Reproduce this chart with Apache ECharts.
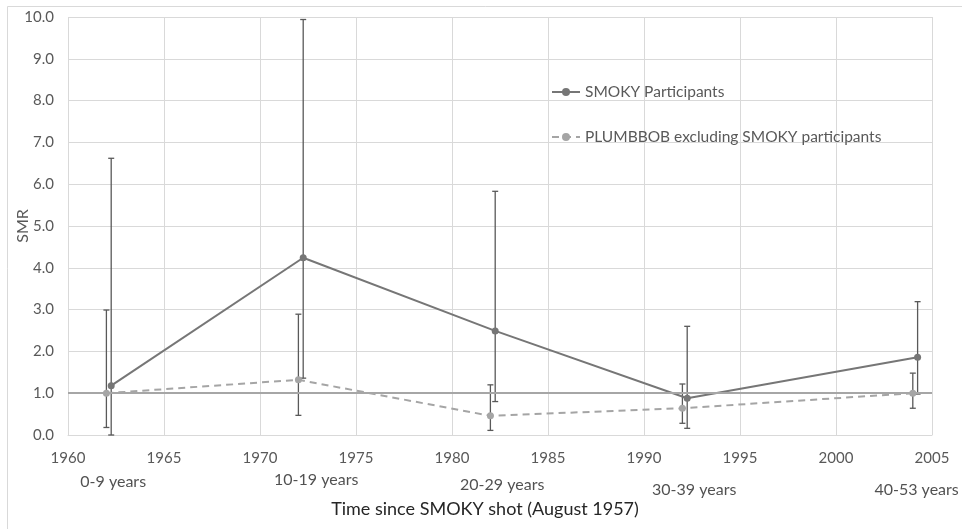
<!DOCTYPE html>
<html>
<head>
<meta charset="utf-8">
<script src="https://cdn.jsdelivr.net/npm/echarts@6/dist/echarts.min.js"></script>
<style>html,body{margin:0;padding:0;background:#fff}#c{width:962px;height:529px}</style>
</head>
<body>
<div id="c"></div>
<script>
// ---- data ----
var smokyYears = [1962.25, 1972.25, 1982.25, 1992.25, 2004.25];
var smokySMR = [1.18, 4.24, 2.49, 0.88, 1.86];
var smokyLow = [0.0, 1.36, 0.80, 0.16, 0.98];
var smokyHigh = [6.62, 9.94, 5.83, 2.60, 3.19];

var plumbYears = [1962.0, 1972.0, 1982.0, 1992.0, 2004.0];
var plumbSMR = [1.0, 1.32, 0.46, 0.64, 1.0];
var plumbLow = [0.18, 0.47, 0.11, 0.28, 0.64];
var plumbHigh = [2.99, 2.89, 1.20, 1.22, 1.48];

var periodLabels = ['0-9 years', '10-19 years', '20-29 years', '30-39 years', '40-53 years'];
var periodYears = [1962.25, 1972.25, 1982.25, 1992.25, 2004.25];
var referenceSMR = 1.0;

var seriesNames = ['SMOKY Participants', 'PLUMBBOB excluding SMOKY participants'];
var xAxisTitle = 'Time since SMOKY shot (August 1957)';
var yAxisTitle = 'SMR';

// ---- styles (layout only) ----
var labelOffsets = [[2, 47], [13, 45], [7, 50], [7, 55], [-1, 55]];
var FONT = 'Lato';

function pairs(xs, ys) { return xs.map(function (x, i) { return [x, ys[i]]; }); }
function errData(xs, lo, hi) { return xs.map(function (x, i) { return [x, lo[i], hi[i]]; }); }

function errRender(params, api) {
  var x = api.value(0);
  var p1 = api.coord([x, api.value(1)]);
  var p2 = api.coord([x, api.value(2)]);
  var cap = 3;
  var st = { stroke: '#595959', lineWidth: 1.3 };
  return {
    type: 'group',
    children: [
      { type: 'line', shape: { x1: p1[0], y1: p1[1], x2: p2[0], y2: p2[1] }, style: st },
      { type: 'line', shape: { x1: p1[0] - cap, y1: p1[1], x2: p1[0] + cap, y2: p1[1] }, style: st },
      { type: 'line', shape: { x1: p2[0] - cap, y1: p2[1], x2: p2[0] + cap, y2: p2[1] }, style: st }
    ]
  };
}

var legendCommon = {
  left: 546, orient: 'vertical', itemWidth: 28, itemHeight: 10,
  textStyle: { color: '#595959', fontSize: 15.5, fontFamily: FONT }
};

var chart = echarts.init(document.getElementById('c'), null, { renderer: 'canvas' });
chart.setOption({
  animation: false,
  backgroundColor: '#fff',
  textStyle: { fontFamily: FONT },
  graphic: [{
    type: 'rect', shape: { x: 7.5, y: 6.5, width: 1000, height: 1000 },
    style: { fill: 'none', stroke: '#d9d9d9', lineWidth: 1 }, silent: true, z: -10
  }],
  grid: { left: 68, right: 30, top: 17, bottom: 94, outerBoundsMode: 'none', containLabel: false },
  legend: [
    Object.assign({ data: [seriesNames[0]], top: 79 }, legendCommon),
    Object.assign({ data: [seriesNames[1]], top: 124 }, legendCommon)
  ],
  xAxis: {
    type: 'value', min: 1960, max: 2005, interval: 5,
    name: xAxisTitle, nameLocation: 'middle', nameGap: 65, nameMoveOverlap: false,
    nameTextStyle: { color: '#262626', fontSize: 18, fontFamily: FONT, padding: [0, 30, 0, 0] },
    axisLine: { show: true, onZero: false, lineStyle: { color: '#d9d9d9', width: 1 } },
    axisTick: { show: false },
    axisLabel: { color: '#595959', fontSize: 15, margin: 16, fontFamily: FONT,
      formatter: function (v) { return String(v); } },
    splitLine: { show: true, lineStyle: { color: '#d9d9d9', width: 1 } }
  },
  yAxis: {
    type: 'value', min: 0, max: 10, interval: 1,
    name: yAxisTitle, nameLocation: 'middle', nameGap: 37, nameRotate: 90, nameMoveOverlap: false,
    nameTextStyle: { color: '#595959', fontSize: 16, fontFamily: FONT },
    axisLine: { show: false }, axisTick: { show: false },
    axisLabel: { color: '#595959', fontSize: 15, margin: 14, fontFamily: FONT,
      formatter: function (v) { return v.toFixed(1); } },
    splitLine: { show: true, lineStyle: { color: '#d9d9d9', width: 1 } }
  },
  series: [
    {
      name: 'ref', type: 'line', data: [], silent: true, z: 1,
      markLine: {
        symbol: 'none', silent: true, label: { show: false },
        lineStyle: { color: '#a6a6a6', width: 2, type: 'solid' },
        data: [{ yAxis: referenceSMR }]
      }
    },
    {
      name: 'errS', type: 'custom', renderItem: errRender, z: 2, silent: true,
      data: errData(smokyYears, smokyLow, smokyHigh), encode: { x: 0, y: [1, 2] }
    },
    {
      name: 'errP', type: 'custom', renderItem: errRender, z: 2, silent: true,
      data: errData(plumbYears, plumbLow, plumbHigh), encode: { x: 0, y: [1, 2] }
    },
    {
      name: seriesNames[1], type: 'line', z: 3,
      data: pairs(plumbYears, plumbSMR),
      symbol: 'circle', symbolSize: 7, showAllSymbol: true,
      lineStyle: { color: '#a5a5a5', width: 2, type: [7, 5] },
      itemStyle: { color: '#a5a5a5' }
    },
    {
      name: seriesNames[0], type: 'line', z: 4,
      data: pairs(smokyYears, smokySMR),
      symbol: 'circle', symbolSize: 7, showAllSymbol: true,
      lineStyle: { color: '#767676', width: 2 },
      itemStyle: { color: '#767676' }
    },
    {
      name: 'periods', type: 'scatter', symbolSize: 0, silent: true,
      clip: false, z: 5,
      data: periodYears.map(function (x, i) {
        return {
          value: [x, 0], name: periodLabels[i],
          label: { offset: labelOffsets[i] }
        };
      }),
      label: {
        show: true, position: 'inside', formatter: '{b}',
        color: '#262626', fontSize: 16, fontFamily: FONT
      }
    }
  ]
});
</script>
</body>
</html>
